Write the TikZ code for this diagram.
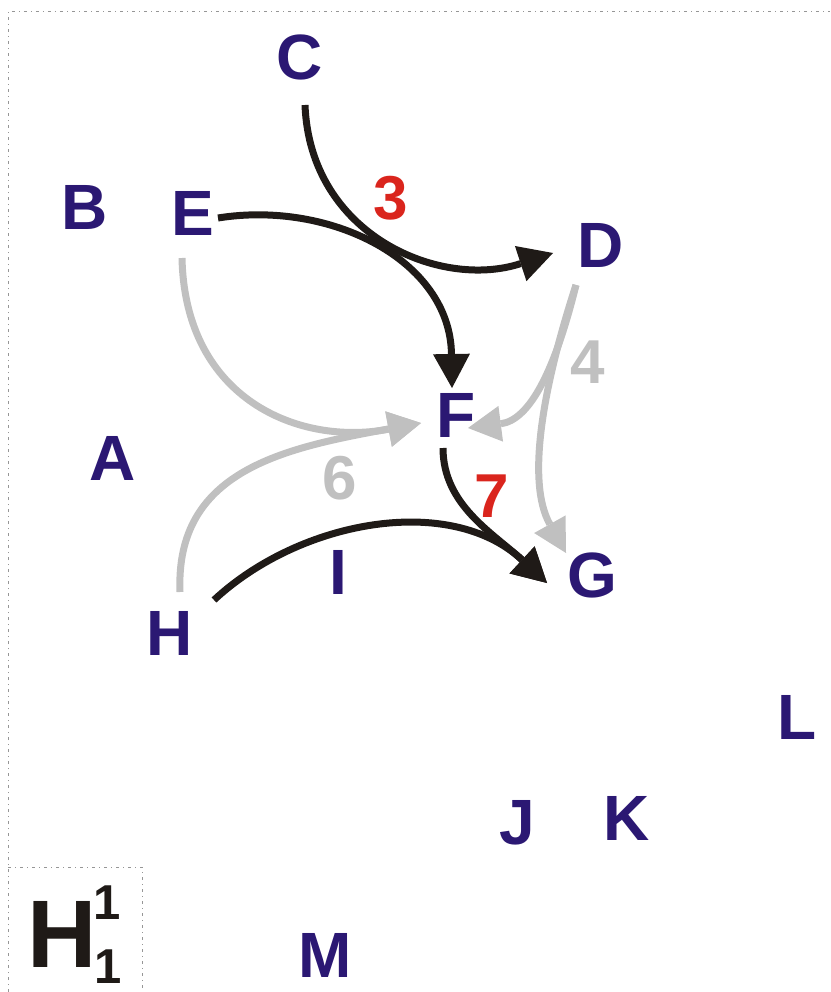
\documentclass[tikz,border=0pt]{standalone}
\usepackage{fontspec}
\setmainfont{Liberation Sans}
\usetikzlibrary{arrows.meta}
\definecolor{navy}{RGB}{43,24,115}
\definecolor{numred}{RGB}{218,37,29}
\definecolor{lgray}{RGB}{192,192,192}
\definecolor{ink}{RGB}{31,26,23}
\definecolor{framegray}{RGB}{150,150,150}
\begin{document}
\begin{tikzpicture}[x=1pt,y=-1pt,
  lbl/.style={inner sep=0pt,text=navy,font=\fontsize{64}{70}\selectfont\bfseries},
  numr/.style={inner sep=0pt,text=numred,font=\fontsize{62}{68}\selectfont\bfseries},
  numg/.style={inner sep=0pt,text=lgray,font=\fontsize{62}{68}\selectfont\bfseries},
  bigh/.style={inner sep=0pt,text=ink,font=\fontsize{96}{100}\selectfont\bfseries},
  idx/.style={inner sep=0pt,text=ink,font=\fontsize{49}{52}\selectfont\bfseries},
  blk/.style={draw=ink,line width=7pt,-{Triangle[length=34pt,width=37pt,line width=0pt]}},
  gry/.style={draw=lgray,line width=7pt,-{Triangle[length=33pt,width=36pt,line width=0pt]}},
  frame/.style={draw=framegray,line width=1pt,dash pattern=on 3pt off 4pt on 1pt off 4pt}]
\useasboundingbox (0,0) rectangle (830,992);
% frame
\draw[frame] (8,992) -- (8,12) -- (830,12);
\draw[frame] (8,867) -- (142,867) -- (142,992);
% letters
\node[lbl] (C) at (300,57) {C};
\node[lbl] (B) at (85,207) {B};
\node[lbl] (E) at (193,213) {E};
\node[lbl] (D) at (601,245) {D};
\node[lbl] (F) at (456,415) {F};
\node[lbl] (A) at (113,458) {A};
\node[lbl] (G) at (592,575) {G};
\node[lbl] (I) at (338,572) {I};
\node[lbl] (H) at (170,633) {H};
\node[lbl] (L) at (797,717) {L};
\node[lbl] (J) at (517,823) {J};
\node[lbl] (K) at (627,818) {K};
\node[lbl] (M) at (325,955) {M};
% numbers
\node[numr] (n3) at (391,198) {3};
\node[numg] (n4) at (588,362) {4};
\node[numg] (n6) at (340,478) {6};
\node[numr] (n7) at (492,496) {7};
% H11
\node[bigh] (HH) at (62,934) {H};
\node[idx] (Hsup) at (107,903) {1};
\node[idx] (Hsub) at (108,967) {1};
% connector end points
\coordinate (cS) at (305,105);
\coordinate (dT) at (553,253);
\coordinate (eS) at (218,218);
\coordinate (fT) at (452,388);
\coordinate (egS) at (182,258);
\coordinate (fgT) at (421,423);
\coordinate (hgS) at (180,592);
\coordinate (dS) at (576,285);
\coordinate (fgR) at (468,428);
\coordinate (gT) at (566,553);
\coordinate (fS) at (443,448);
\coordinate (gbT) at (547,583);
\coordinate (hS) at (214,600);
% gray connectors
\draw[gry] (egS) .. controls (185,400) and (300,446) .. (fgT);
\draw[gry] (hgS) .. controls (175,470) and (285,448) .. (fgT);
\draw[gry] (dS) .. controls (555,370) and (530,420) .. (fgR);
\draw[gry] (dS) .. controls (545,380) and (525,480) .. (gT);
% black connectors
\draw[blk] (cS) .. controls (310,235) and (440,290) .. (dT);
\draw[blk] (eS) .. controls (330,200) and (450,260) .. (fT);
\draw[blk] (fS) .. controls (443,505) and (493,533) .. (gbT);
\draw[blk] (hS) .. controls (300,520) and (450,493) .. (gbT);
\end{tikzpicture}
\end{document}
